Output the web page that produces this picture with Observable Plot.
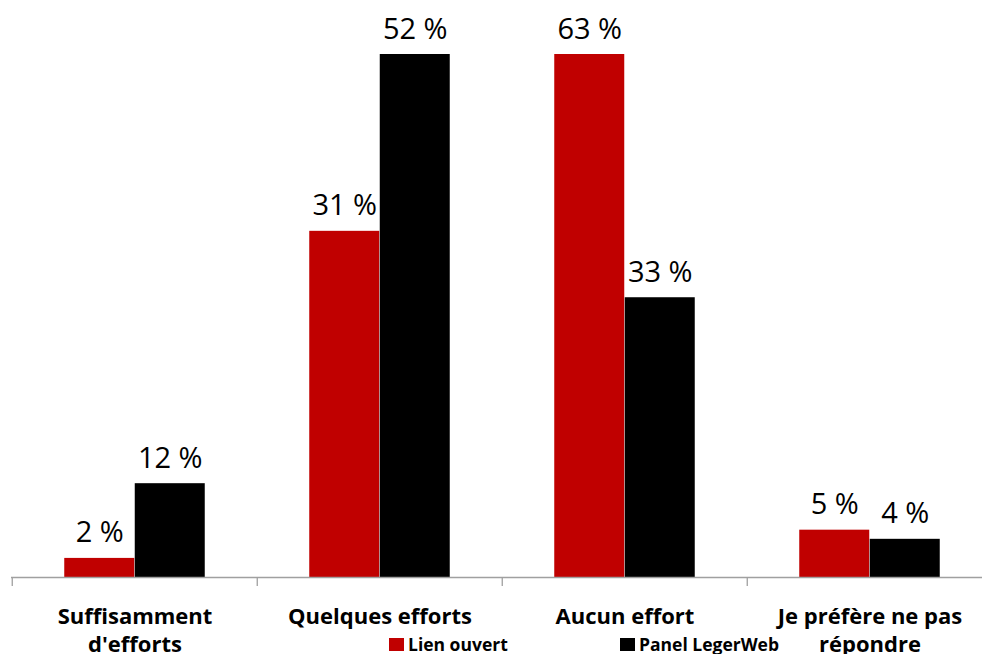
<!DOCTYPE html>
<html>
<head>
<meta charset="utf-8">
<script src="https://cdn.jsdelivr.net/npm/d3@7"></script>
<script src="https://cdn.jsdelivr.net/npm/@observablehq/plot@0.6"></script>
<style>
  html, body { margin: 0; padding: 0; background: #fff; }
  #wrap { position: relative; width: 982px; height: 654px; overflow: hidden; }
  #legend { position: absolute; top: 632px; left: 0; width: 982px; height: 22px;
            font-family: "Open Sans", sans-serif; font-weight: bold; font-size: 17.5px; color: #000; }
  .item { position: absolute; top: 0; display: flex; align-items: center; white-space: nowrap; }
  .sw { width: 15px; height: 13px; margin-right: 4px; display: inline-block; }
</style>
</head>
<body>
<div id="wrap"><div id="legend"></div></div>
<script>
const categories = ["Suffisamment\nd'efforts", "Quelques efforts", "Aucun effort", "Je préfère ne pas\nrépondre"];
const seriesNames = ["Lien ouvert", "Panel LegerWeb"];
const seriesColors = ["#c00000", "#000000"];
// Printed labels (percent)
const lienOuvertLabels = [2, 31, 63, 5];
const panelLabels = [12, 52, 33, 4];
// Bar heights as drawn in the picture (same units as the axis)
const lienOuvertHeights = [2.3, 41.7, 63, 5.7];
const panelHeights = [11.3, 63, 33.7, 4.6];

const rows = [];
categories.forEach((c, i) => {
  rows.push({cat: c, series: seriesNames[0], h: lienOuvertHeights[i], label: lienOuvertLabels[i] + " %", side: -1});
  rows.push({cat: c, series: seriesNames[1], h: panelHeights[i], label: panelLabels[i] + " %", side: 1});
});
const red = rows.filter(d => d.side < 0);
const blk = rows.filter(d => d.side > 0);

const band = (993 - 11) / 4;
const barW = 70.5;
const outer = band / 2 - barW;

const chart = Plot.plot({
  width: 982,
  height: 654,
  marginLeft: 11,
  marginRight: 0,
  marginTop: 0,
  marginBottom: 77,
  style: {background: "#fff"},
  x: {domain: categories, range: [11, 993], padding: 0, label: null},
  y: {domain: [0, 63], range: [577, 54], label: null},
  color: {domain: seriesNames, range: seriesColors},
  marks: [
    Plot.rectY(red, {x: "cat", y: "h", fill: "series", insetLeft: outer, insetRight: outer + barW}),
    Plot.rectY(blk, {x: "cat", y: "h", fill: "series", insetLeft: outer + barW, insetRight: outer}),
    Plot.text(red, {x: "cat", y: "h", text: "label", dx: -barW / 2, dy: -16, lineAnchor: "bottom",
      fontFamily: "Open Sans", fontSize: 29, fill: "#000"}),
    Plot.text(blk, {x: "cat", y: "h", text: "label", dx: barW / 2, dy: -16, lineAnchor: "bottom",
      fontFamily: "Open Sans", fontSize: 29, fill: "#000"}),
    Plot.ruleY([0], {stroke: "#a0a0a0", strokeWidth: 1.3}),
    Plot.axisX({tickSize: 9, text: null, dx: -band / 2, stroke: "#a0a0a0", strokeWidth: 1.3, label: null}),
    Plot.axisX({tickSize: 0, tickPadding: 27, lineAnchor: "top", lineHeight: 1.25,
      fontFamily: "Open Sans", fontWeight: "bold", fontSize: 22, fill: "#000", label: null}),
    Plot.axisY({ticks: [], label: null})
  ]
});
const wrap = document.getElementById("wrap");
wrap.insertBefore(chart, wrap.firstChild);

const legend = document.getElementById("legend");
const legendX = [389, 620];
seriesNames.forEach((s, i) => {
  const it = document.createElement("div");
  it.className = "item";
  it.style.left = legendX[i] + "px";
  it.innerHTML = `<span class="sw" style="background:${seriesColors[i]}"></span><span>${s}</span>`;
  legend.appendChild(it);
});
</script>
</body>
</html>
